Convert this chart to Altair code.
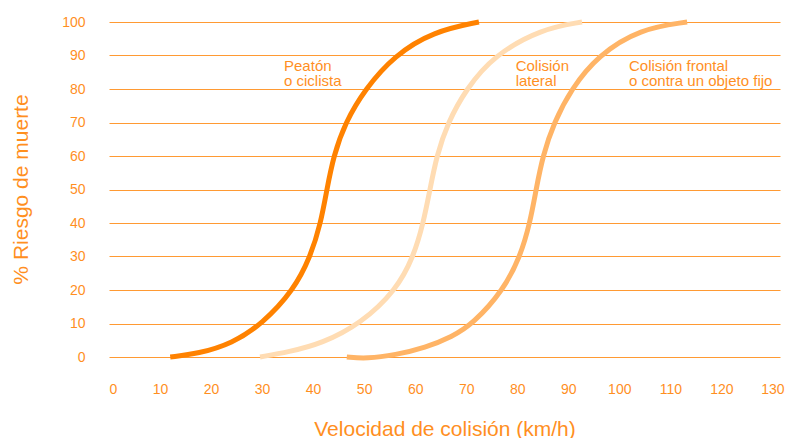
import altair as alt
import pandas as pd

# Speed at impact (km/h) against risk of death (%) for three kinds of crash
peaton_x = [12.0, 17.5, 24.1, 30.1, 36.2, 39.5, 41.5, 42.7, 44.0, 46.3, 50.2, 55.9, 63.6, 72.5]
peaton_y = [0, 1, 4, 10, 20, 30, 40, 50, 60, 70, 80, 90, 97.2, 100]

lateral_x = [29.6, 35.2, 41.7, 49.4, 56.3, 59.7, 61.6, 62.9, 64.2, 66.4, 70.0, 75.4, 84.8, 92.7]
lateral_y = [0, 1.5, 4, 10, 20, 30, 40, 50, 60, 70, 80, 90, 98, 100]

frontal_x = [46.6, 50.5, 56.1, 62.0, 67.2, 71.4, 77.3, 80.6, 82.5, 83.7, 85.0, 87.2, 90.6, 95.8, 104.1, 113.3]
frontal_y = [0, -0.5, 0.6, 2.8, 6, 10, 20, 30, 40, 50, 60, 70, 80, 90, 98, 100]

series_names = ["Peatón o ciclista", "Colisión lateral", "Colisión frontal o contra un objeto fijo"]
series_colors = ["#FF8200", "#FFDCB3", "#FFB466"]

x_ticks = list(range(0, 131, 10))
y_ticks = list(range(0, 101, 10))

# Curve labels, anchored at the baseline of their first line
label_text = ["Peatón\no ciclista", "Colisión\nlateral", "Colisión frontal\no contra un objeto fijo"]
label_x = [34.3, 79.7, 101.9]
label_y = [85.5, 85.5, 85.5]

TEXT = "#FF8F1F"
GRID = "#FF9A33"
FONT = "Liberation Sans"

rows = []
for name, xs, ys in zip(series_names, [peaton_x, lateral_x, frontal_x], [peaton_y, lateral_y, frontal_y]):
    for i, (x, y) in enumerate(zip(xs, ys)):
        rows.append({"serie": name, "orden": i, "velocidad": x, "riesgo": y})
curves = pd.DataFrame(rows)

labels = pd.DataFrame({"texto": label_text, "velocidad": label_x, "riesgo": label_y})

x_enc = alt.X(
    "velocidad:Q",
    scale=alt.Scale(domain=[0, 131.5], nice=False, zero=False),
    axis=alt.Axis(
        values=x_ticks,
        title="Velocidad de colisión (km/h)",
        grid=False,
        domain=False,
        ticks=False,
        labelPadding=25,
        labelFontSize=14,
        labelColor=TEXT,
        labelFont=FONT,
        labelOverlap=False,
        titleFontSize=21,
        titleFontWeight="normal",
        titleColor=TEXT,
        titleFont=FONT,
        titleY=78,
        titleBaseline="alphabetic",
    ),
)
y_enc = alt.Y(
    "riesgo:Q",
    scale=alt.Scale(domain=[0, 100], nice=False),
    axis=alt.Axis(
        values=y_ticks,
        title="% Riesgo de muerte",
        grid=True,
        gridColor=GRID,
        gridWidth=1,
        gridOpacity=1,
        domain=False,
        ticks=False,
        labelPadding=24,
        labelFontSize=14,
        labelColor=TEXT,
        labelFont=FONT,
        labelOverlap=False,
        titleFontSize=21,
        titleFontWeight="normal",
        titleColor=TEXT,
        titleFont=FONT,
        titleX=-82,
        titleY=167,
        titleAlign="center",
        titleBaseline="alphabetic",
    ),
)

lines = alt.Chart(curves).mark_line(
    strokeWidth=5, strokeCap="butt", interpolate="basis"
).encode(
    x=x_enc,
    y=y_enc,
    color=alt.Color(
        "serie:N",
        scale=alt.Scale(domain=series_names, range=series_colors),
        legend=None,
    ),
    detail="serie:N",
    order="orden:Q",
)

texts = alt.Chart(labels).mark_text(
    align="left",
    baseline="alphabetic",
    lineBreak="\n",
    lineHeight=15.5,
    fontSize=15,
    font=FONT,
    color=TEXT,
).encode(
    x=x_enc,
    y=y_enc,
    text="texto:N",
)

chart = (
    alt.layer(lines, texts)
    .properties(
        width=671,
        height=335,
        autosize=alt.AutoSizeParams(type="none"),
        padding={"left": 109, "top": 22, "right": 15, "bottom": 81},
        background="white",
    )
    .configure_view(stroke=None)
)

chart.save("out.html", embed_options={"renderer": "svg", "actions": False})
